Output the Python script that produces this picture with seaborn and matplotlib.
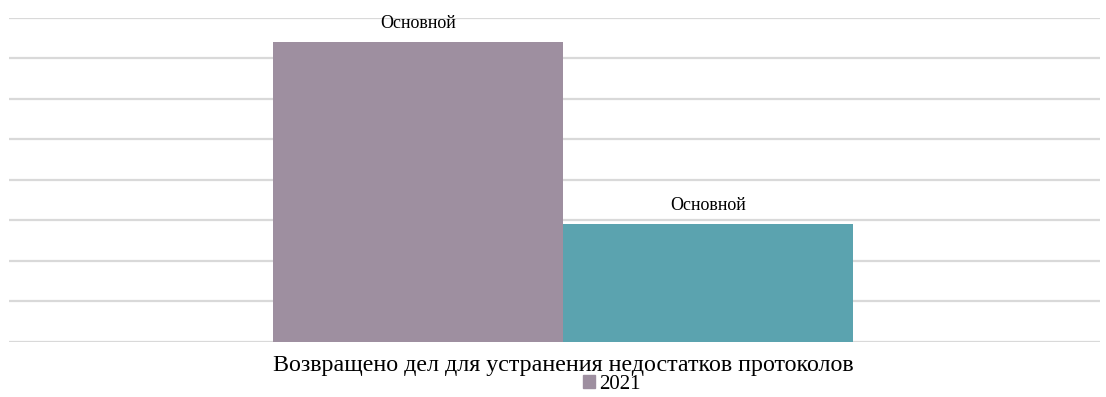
import matplotlib
matplotlib.use("Agg")
import matplotlib.pyplot as plt
from matplotlib.patches import Patch
import seaborn as sns
import pandas as pd

# data
category = "Возвращено дел для устранения недостатков протоколов"
series = ["Основной 1", "Основной 2"]
values = [7.4, 2.9]
bar_labels = ["Основной", "Основной"]
legend_label = "2021"
colors = ["#9E8FA0", "#5BA3AF"]

df = pd.DataFrame({"cat": [category] * 2, "series": series, "value": values})

sns.set_style("white")
plt.rcParams["font.family"] = ["Liberation Serif", "DejaVu Serif"]
plt.rcParams["text.color"] = "black"
plt.rcParams["xtick.color"] = "black"

fig = plt.figure(figsize=(11.06, 3.97), dpi=100)
ax = fig.add_axes([9 / 1106, 1 - 341.5 / 397, 1091 / 1106, (341.5 - 17.7) / 397])

sns.barplot(data=df, x="cat", y="value", hue="series", palette=colors,
            width=0.532, dodge=True, legend=False, ax=ax, saturation=1,
            linewidth=0)

for cont, lab in zip(ax.containers, bar_labels):
    ax.bar_label(cont, labels=[lab], padding=7, fontsize=13, color="black")

shift = (563 - 554.5) / 1091
ax.set_xlim(-0.5 - shift, 0.5 - shift)
ax.set_ylim(0, 8)
ax.set_yticks(range(0, 9))
ax.set_yticklabels([])
ax.yaxis.grid(True, color="#D9D9D9", linewidth=1.6)
ax.set_axisbelow(True)
for s in ax.spines.values():
    s.set_visible(False)
ax.tick_params(axis="both", length=0)
ax.tick_params(axis="x", labelsize=17.3, pad=10, labelcolor="black")
ax.set_xlabel("")
ax.set_ylabel("")

fig.legend(handles=[Patch(color=colors[0], label=legend_label)],
           loc="lower center", bbox_to_anchor=(612 / 1106, -0.04), frameon=False,
           fontsize=15, handlelength=0.6, handleheight=0.6, handletextpad=0.2)

fig.savefig("out.png", dpi=100)
